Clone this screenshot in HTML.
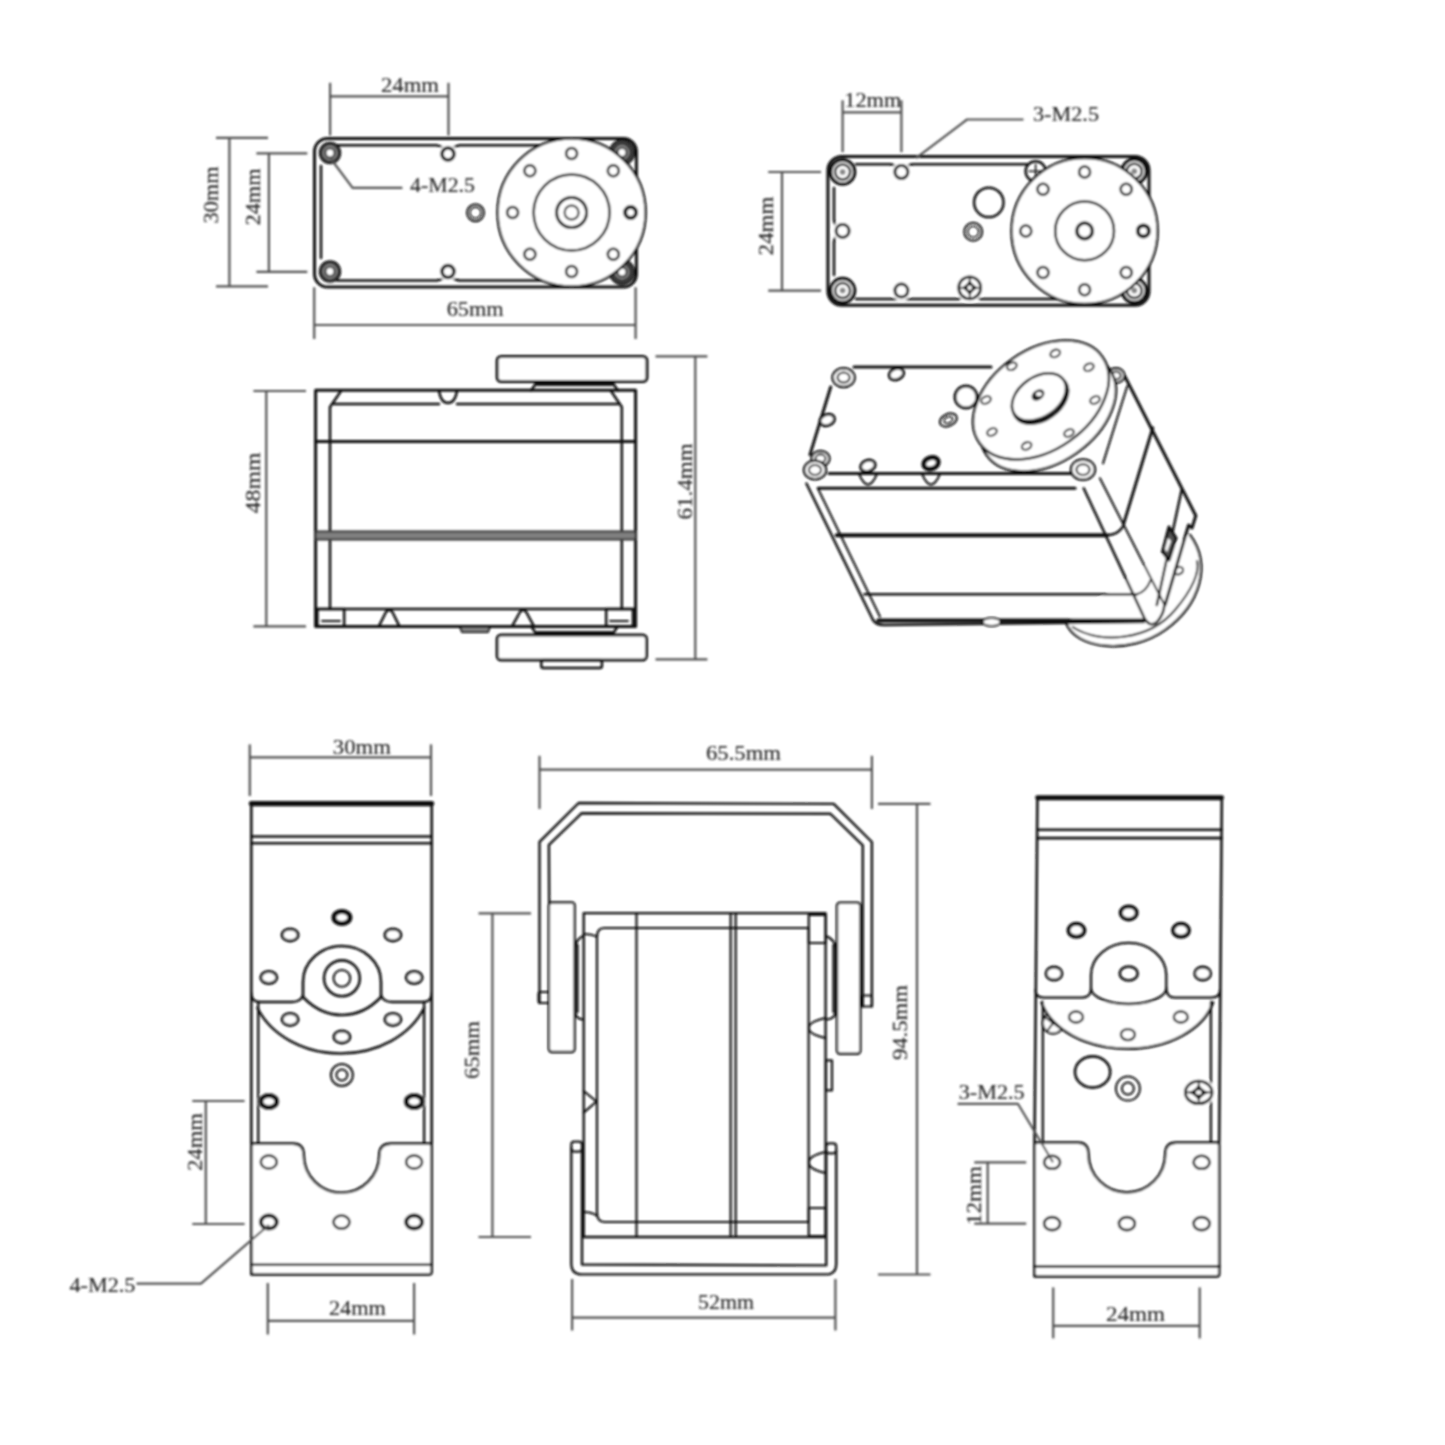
<!DOCTYPE html>
<html><head><meta charset="utf-8"><style>
html,body{margin:0;padding:0;background:#fff;}
svg{display:block;}
text{font-family:"Liberation Serif",serif;font-size:20px;fill:#2a2a2a;stroke:#2a2a2a;stroke-width:0.15px;}
</style></head><body>
<svg width="1445" height="1445" viewBox="0 0 1445 1445"><defs><filter id="bl" filterUnits="userSpaceOnUse" x="0" y="0" width="1445" height="1445"><feGaussianBlur stdDeviation="1"/></filter></defs><g filter="url(#bl)" fill="none" stroke="#111" stroke-width="2.3" stroke-linejoin="round" stroke-linecap="round">
<rect  rx="13" stroke-width="3" x="314.5" y="138.5" width="321.9" height="148.5"/>
<path  stroke-width="2.5" d="M337,145.3 L437,145.3 Q448,150 459,145.3 L548,145.3"/>
<path  stroke-width="2.5" d="M337,280.5 L437,280.5 Q448,276 459,280.5 L548,280.5"/>
<path  stroke-width="2.5" d="M321,166 L321,258"/>
<circle  fill="#3a3a3a" stroke="#111" stroke-width="1.5" cx="330" cy="153" r="10.5"/>
<circle  stroke="#9a9a9a" stroke-width="1.3" cx="330" cy="153" r="6.5"/>
<circle fill="#fff" stroke="none"  cx="330" cy="153" r="3.4"/>
<circle  fill="#3a3a3a" stroke="#111" stroke-width="1.5" cx="330" cy="271.5" r="10.5"/>
<circle  stroke="#9a9a9a" stroke-width="1.3" cx="330" cy="271.5" r="6.5"/>
<circle fill="#fff" stroke="none"  cx="330" cy="271.5" r="3.4"/>
<circle  fill="#3a3a3a" stroke="#111" stroke-width="1.5" cx="622" cy="152.5" r="12.5"/>
<circle  stroke="#9a9a9a" stroke-width="1.3" cx="622" cy="152.5" r="6.5"/>
<circle fill="#fff" stroke="none"  cx="622" cy="152.5" r="3.4"/>
<circle  fill="#3a3a3a" stroke="#111" stroke-width="1.5" cx="622" cy="272" r="12.5"/>
<circle  stroke="#9a9a9a" stroke-width="1.3" cx="622" cy="272" r="6.5"/>
<circle fill="#fff" stroke="none"  cx="622" cy="272" r="3.4"/>
<circle fill="#fff" stroke="none"  cx="448" cy="154" r="9.5"/>
<circle  stroke-width="3.5" fill="#fff" cx="448" cy="154" r="6"/>
<circle fill="#fff" stroke="none"  cx="448" cy="271.5" r="9.5"/>
<circle  stroke-width="3.5" fill="#fff" cx="448" cy="271.5" r="6"/>
<circle  stroke-width="2" cx="475.5" cy="212.7" r="8.5"/>
<circle  stroke-width="1.5" cx="475.5" cy="212.7" r="5.5"/>
<circle  stroke-width="2.5" fill="#fff" cx="571.6" cy="212.5" r="74"/>
<circle  stroke-width="2.5" cx="571.6" cy="212.5" r="38"/>
<circle  stroke-width="3" cx="571.6" cy="212.5" r="15"/>
<circle  stroke-width="2" cx="571.6" cy="212.5" r="7"/>
<circle  stroke-width="4" cx="630.6" cy="212.5" r="5.5"/>
<circle  stroke-width="2.5" cx="613.3" cy="254.2" r="5.5"/>
<circle  stroke-width="2.5" cx="571.6" cy="271.5" r="5.5"/>
<circle  stroke-width="2.5" cx="529.9" cy="254.2" r="5.5"/>
<circle  stroke-width="2.5" cx="512.6" cy="212.5" r="5.5"/>
<circle  stroke-width="2.5" cx="529.9" cy="170.8" r="5.5"/>
<circle  stroke-width="2.5" cx="571.6" cy="153.5" r="5.5"/>
<circle  stroke-width="2.5" cx="613.3" cy="170.8" r="5.5"/>
<polyline stroke="#505050" stroke-width="2.2" stroke-linecap="butt"  points="331,159 352.6,187.8 402.4,187.8"/>
<text x="410" y="192" textLength="65" lengthAdjust="spacingAndGlyphs" >4-M2.5</text>
<line stroke="#505050" stroke-width="2.2" stroke-linecap="butt"  x1="330.1" y1="82.8" x2="330.1" y2="135.5"/>
<line stroke="#505050" stroke-width="2.2" stroke-linecap="butt"  x1="448.5" y1="82.8" x2="448.5" y2="135.5"/>
<line stroke="#505050" stroke-width="2.2" stroke-linecap="butt"  x1="330.1" y1="96.3" x2="448.5" y2="96.3"/>
<text x="381" y="92.2" textLength="58" lengthAdjust="spacingAndGlyphs" >24mm</text>
<line stroke="#505050" stroke-width="2.2" stroke-linecap="butt"  x1="229.4" y1="137.9" x2="229.4" y2="286.3"/>
<line stroke="#505050" stroke-width="2.2" stroke-linecap="butt"  x1="216" y1="137.9" x2="268" y2="137.9"/>
<line stroke="#505050" stroke-width="2.2" stroke-linecap="butt"  x1="216" y1="286.3" x2="268" y2="286.3"/>
<text transform="translate(218,195) rotate(-90)" x="0" y="0" text-anchor="middle" textLength="57" lengthAdjust="spacingAndGlyphs" >30mm</text>
<line stroke="#505050" stroke-width="2.2" stroke-linecap="butt"  x1="268.9" y1="153.4" x2="268.9" y2="271.8"/>
<line stroke="#505050" stroke-width="2.2" stroke-linecap="butt"  x1="256.4" y1="153.4" x2="307.3" y2="153.4"/>
<line stroke="#505050" stroke-width="2.2" stroke-linecap="butt"  x1="256.4" y1="271.8" x2="307.3" y2="271.8"/>
<text transform="translate(259.5,197) rotate(-90)" x="0" y="0" text-anchor="middle" textLength="57" lengthAdjust="spacingAndGlyphs" >24mm</text>
<line stroke="#505050" stroke-width="2.2" stroke-linecap="butt"  x1="314.2" y1="287.3" x2="314.2" y2="339"/>
<line stroke="#505050" stroke-width="2.2" stroke-linecap="butt"  x1="635.6" y1="287.3" x2="635.6" y2="339"/>
<line stroke="#505050" stroke-width="2.2" stroke-linecap="butt"  x1="314.2" y1="325" x2="635.6" y2="325"/>
<text x="446.7" y="315.7" textLength="57" lengthAdjust="spacingAndGlyphs" >65mm</text>
<rect  rx="14" stroke-width="3" x="827.9" y="156.5" width="321.1" height="148.8"/>
<path  stroke-width="2.5" d="M856,164.3 L890,164.3 Q901.4,168 913,164.3 L1027,164.3"/>
<path  stroke-width="2.5" d="M856,299 L958,299 Q969.7,295 981,299 L1058,299"/>
<path  stroke-width="2.5" d="M834,188 L834,220 Q838,231 834,242 L834,275"/>
<circle  fill="#fff" stroke-width="3.5" cx="842.6" cy="172" r="12"/>
<circle  stroke-width="2.5" cx="842.6" cy="172" r="7.5"/>
<circle  fill="#888" stroke="none" cx="842.6" cy="172" r="3"/>
<circle  fill="#fff" stroke-width="3.5" cx="842.6" cy="290.6" r="12"/>
<circle  stroke-width="2.5" cx="842.6" cy="290.6" r="7.5"/>
<circle  fill="#888" stroke="none" cx="842.6" cy="290.6" r="3"/>
<circle  fill="#fff" stroke-width="3.5" cx="1134.3" cy="171.2" r="12"/>
<circle  stroke-width="2.5" cx="1134.3" cy="171.2" r="7.5"/>
<circle  fill="#888" stroke="none" cx="1134.3" cy="171.2" r="3"/>
<circle  fill="#fff" stroke-width="3.5" cx="1134.3" cy="290.6" r="12"/>
<circle  stroke-width="2.5" cx="1134.3" cy="290.6" r="7.5"/>
<circle  fill="#888" stroke="none" cx="1134.3" cy="290.6" r="3"/>
<circle fill="#fff" stroke="none"  cx="901.4" cy="172" r="10"/>
<circle  stroke-width="3" fill="#fff" cx="901.4" cy="172" r="6.5"/>
<circle fill="#fff" stroke="none"  cx="842.6" cy="230.9" r="10"/>
<circle  stroke-width="3" fill="#fff" cx="842.6" cy="230.9" r="6.5"/>
<circle fill="#fff" stroke="none"  cx="901.4" cy="290.6" r="10"/>
<circle  stroke-width="3" fill="#fff" cx="901.4" cy="290.6" r="6.5"/>
<circle  stroke-width="2.5" cx="988.8" cy="202.4" r="14.7"/>
<circle  stroke-width="2" cx="973.2" cy="231.8" r="9"/>
<circle  stroke-width="1.5" cx="973.2" cy="231.8" r="5.5"/>
<circle fill="#fff" stroke="none"  cx="969.7" cy="287.8" r="14"/>
<ellipse  fill="#fff" stroke-width="2.8" cx="969.7" cy="287.8" rx="11" ry="11"/>
<path fill="#222" stroke="none"  d="M960.9,287.8 Q967.3,285.4 969.7,279 Q972.1,285.4 978.5,287.8 Q972.1,290.2 969.7,296.6 Q967.3,290.2 960.9,287.8 Z"/>
<path  stroke-width="1.6" d="M958.7,287.8 L980.7,287.8 M969.7,276.8 L969.7,298.8"/>
<ellipse fill="#fff" stroke="none"  cx="969.7" cy="287.8" rx="2.2" ry="2.2"/>
<circle  stroke-width="2.5" cx="1035.6" cy="171.2" r="10"/>
<path  stroke-width="1.5" d="M1029,171.2 L1042,171.2 M1035.6,164.6 L1035.6,177.8"/>
<circle  stroke-width="2.5" fill="#fff" cx="1084.6" cy="230.9" r="73"/>
<circle  stroke-width="2.5" cx="1084.6" cy="230.9" r="29.4"/>
<circle  stroke-width="3.5" cx="1084.6" cy="230.9" r="7.8"/>
<circle  stroke-width="4" cx="1143.4" cy="230.9" r="5.5"/>
<circle  stroke-width="2.5" cx="1126.2" cy="272.5" r="5.5"/>
<circle  stroke-width="2.5" cx="1084.6" cy="289.7" r="5.5"/>
<circle  stroke-width="2.5" cx="1043" cy="272.5" r="5.5"/>
<circle  stroke-width="2.5" cx="1025.8" cy="230.9" r="5.5"/>
<circle  stroke-width="2.5" cx="1043" cy="189.3" r="5.5"/>
<circle  stroke-width="2.5" cx="1084.6" cy="172.1" r="5.5"/>
<circle  stroke-width="2.5" cx="1126.2" cy="189.3" r="5.5"/>
<polyline stroke="#505050" stroke-width="2.2" stroke-linecap="butt"  points="916,158.2 967,119.5 1023.5,119.5"/>
<text x="1033" y="121.4" textLength="66" lengthAdjust="spacingAndGlyphs" >3-M2.5</text>
<line stroke="#505050" stroke-width="2.2" stroke-linecap="butt"  x1="842.6" y1="100.3" x2="842.6" y2="152.2"/>
<line stroke="#505050" stroke-width="2.2" stroke-linecap="butt"  x1="901.4" y1="100.3" x2="901.4" y2="152.2"/>
<line stroke="#505050" stroke-width="2.2" stroke-linecap="butt"  x1="842.6" y1="112.4" x2="901.4" y2="112.4"/>
<text x="844.3" y="107.2" textLength="57" lengthAdjust="spacingAndGlyphs" >12mm</text>
<line stroke="#505050" stroke-width="2.2" stroke-linecap="butt"  x1="782" y1="172" x2="782" y2="290.6"/>
<line stroke="#505050" stroke-width="2.2" stroke-linecap="butt"  x1="768.2" y1="172" x2="821" y2="172"/>
<line stroke="#505050" stroke-width="2.2" stroke-linecap="butt"  x1="768.2" y1="290.6" x2="821" y2="290.6"/>
<text transform="translate(772.5,226) rotate(-90)" x="0" y="0" text-anchor="middle" textLength="59" lengthAdjust="spacingAndGlyphs" >24mm</text>
<path  stroke-width="2.5" d="M531,390.5 L537,382 L612,382 L618,390.5"/>
<line  stroke-width="3" x1="537" y1="384.5" x2="612" y2="384.5"/>
<rect  rx="4" stroke-width="3" fill="#fff" x="497.2" y="356.4" width="149.7" height="25.1"/>
<path  stroke-width="2.5" d="M531,626 L537,635 L612,635 L618,626"/>
<line  stroke-width="3" x1="537" y1="632.5" x2="612" y2="632.5"/>
<rect  rx="4" stroke-width="3" fill="#fff" x="497.2" y="635" width="149.3" height="25.1"/>
<rect  rx="2" stroke-width="2.5" x="541.3" y="660" width="60.6" height="8"/>
<path  stroke-width="3" d="M315.6,626.4 L315.6,390.2 L635.6,390.2 L635.6,626.4 Z"/>
<path  stroke-width="2.5" d="M330,609 L330,407 L341,391"/>
<path  stroke-width="2.5" d="M621.8,609 L621.8,407 L611,391"/>
<line  stroke-width="2.5" x1="334" y1="404" x2="439" y2="404"/>
<path  stroke-width="2.5" d="M439,391 Q441,403 448,403 Q455,403 457,391"/>
<line  stroke-width="2.5" x1="457" y1="404" x2="618" y2="404"/>
<line  stroke-width="3" x1="315.6" y1="441.5" x2="635.6" y2="441.5"/>
<rect  fill="#808080" stroke="#333" stroke-width="2" x="315.6" y="531.6" width="320" height="8"/>
<line  stroke-width="2.5" x1="315.6" y1="609" x2="635.6" y2="609"/>
<rect  stroke-width="2.5" x="317.4" y="609" width="26.8" height="17.4"/>
<line  stroke-width="2" x1="322" y1="621" x2="340" y2="621"/>
<rect  stroke-width="2.5" x="606.2" y="609" width="26.8" height="17.4"/>
<line  stroke-width="2" x1="610" y1="621" x2="628" y2="621"/>
<path  stroke-width="2.5" d="M378.8,626.4 L386,612 Q389.2,608 392.4,612 L399.5,626.4"/>
<path  stroke-width="2.5" d="M512,626.4 L520,612 Q523.1,608 526.2,612 L534,626.4"/>
<path  stroke-width="2" fill="#888" d="M460,627 L490,627 L488,632 L462,632 Z"/>
<line stroke="#505050" stroke-width="2.2" stroke-linecap="butt"  x1="266.3" y1="391" x2="266.3" y2="626.4"/>
<line stroke="#505050" stroke-width="2.2" stroke-linecap="butt"  x1="253.4" y1="391" x2="306" y2="391"/>
<line stroke="#505050" stroke-width="2.2" stroke-linecap="butt"  x1="253.4" y1="626.4" x2="306" y2="626.4"/>
<text transform="translate(260.3,483) rotate(-90)" x="0" y="0" text-anchor="middle" textLength="61" lengthAdjust="spacingAndGlyphs" >48mm</text>
<line stroke="#505050" stroke-width="2.2" stroke-linecap="butt"  x1="695.3" y1="356.4" x2="695.3" y2="659.3"/>
<line stroke="#505050" stroke-width="2.2" stroke-linecap="butt"  x1="655.5" y1="356.4" x2="707.4" y2="356.4"/>
<line stroke="#505050" stroke-width="2.2" stroke-linecap="butt"  x1="655.5" y1="659.3" x2="707.4" y2="659.3"/>
<text transform="translate(691.8,481.4) rotate(-90)" x="0" y="0" text-anchor="middle" textLength="76" lengthAdjust="spacingAndGlyphs" >61.4mm</text>
<path  stroke-width="2.5" fill="#fff" d="M1065.7,621.9 C1075,650 1130,655 1165,630 C1200,605 1212,565 1190,535"/>
<path  stroke-width="2" d="M1072.7,627 C1100,645 1150,640 1175,610 C1192,590 1200,572 1197,561"/>
<path  stroke-width="2.5" d="M806.4,483.5 L873,620 Q876,625 884,625 L1144,622 "/>
<line  stroke-width="2" x1="817.7" y1="488" x2="880" y2="616.7"/>
<line  stroke-width="4" x1="836.7" y1="535.2" x2="1107" y2="535.2"/>
<path  stroke-width="2.5" d="M1107,535.2 Q1118,535 1122.8,526.7"/>
<line  stroke-width="2.5" x1="864.4" y1="594.2" x2="1136.7" y2="594.2"/>
<path  stroke-width="2" d="M1136.7,594.2 Q1146,592 1150.5,580.3"/>
<line  stroke-width="4" x1="878.2" y1="620.5" x2="1143.6" y2="620.5"/>
<ellipse  fill="#fff" stroke-width="2" cx="991.6" cy="622" rx="9" ry="4"/>
<line  stroke-width="3" x1="829" y1="473.6" x2="1075" y2="473.6"/>
<line  stroke-width="3" x1="818.5" y1="488.3" x2="1075" y2="488.3"/>
<path  stroke-width="2" d="M859,474 Q868,495 877,474"/>
<path  stroke-width="2" d="M922,474 Q931,495 940,474"/>
<path  stroke-width="2.5" d="M1083.7,488.3 L1144.5,618.4 Q1150,628 1157,622 Q1164,614 1164.4,604.6"/>
<line  stroke-width="2" x1="1099.9" y1="478.3" x2="1164.4" y2="604.6"/>
<path  stroke-width="3" d="M1124.8,376.2 L1195.8,515.7 L1192,528 L1188.6,525 L1165.2,604.6"/>
<line  stroke-width="3" x1="1152.8" y1="427.9" x2="1123.5" y2="524.4"/>
<line  stroke-width="2.5" x1="1181.7" y1="489.7" x2="1156.8" y2="605"/>
<path  stroke-width="3" fill="#555" d="M1169,527 L1176,538 L1169,560 L1162.5,552 Z"/>
<path fill="#fff" stroke="none"  d="M1168,538 L1171,541 L1167,552 L1165,549 Z"/>
<line  stroke-width="2" x1="1103" y1="463.4" x2="1127.2" y2="386.2"/>
<ellipse  stroke-width="2" transform="rotate(-30 1178.8 570.7)" cx="1178.8" cy="570.7" rx="4.5" ry="3.5"/>
<ellipse  stroke-width="2.5" fill="#fff" cx="820.5" cy="458.6" rx="9" ry="7.6"/>
<ellipse  stroke-width="2" cx="820.5" cy="458.6" rx="5" ry="4"/>
<ellipse  stroke-width="2.5" fill="#fff" cx="1083" cy="469.6" rx="12" ry="10.2"/>
<ellipse  stroke-width="2" cx="1083" cy="469.6" rx="6.6" ry="5.4"/>
<ellipse  stroke-width="2.5" fill="#fff" cx="815" cy="470" rx="11" ry="9.3"/>
<ellipse  stroke-width="2" cx="815" cy="470" rx="6.1" ry="5"/>
<ellipse  stroke-width="2.5" fill="#fff" cx="843.6" cy="377.6" rx="11" ry="9.3"/>
<ellipse  stroke-width="2" cx="843.6" cy="377.6" rx="6.1" ry="5"/>
<ellipse  stroke-width="2.5" fill="#fff" cx="1116" cy="375.5" rx="8.5" ry="7.2"/>
<ellipse  stroke-width="2" cx="1116" cy="375.5" rx="4.7" ry="3.8"/>
<path  stroke-width="3" d="M854,367 L991,367"/>
<path  stroke-width="3" d="M830.7,387 L810,454.6"/>
<ellipse  stroke-width="3" fill="#fff" transform="rotate(-20 896.4 374.1)" cx="896.4" cy="374.1" rx="7.5" ry="5.5"/>
<ellipse  stroke-width="3" fill="#fff" transform="rotate(-20 827.2 420)" cx="827.2" cy="420" rx="7.5" ry="5.5"/>
<ellipse  stroke-width="3" fill="#fff" transform="rotate(-20 867.9 465.8)" cx="867.9" cy="465.8" rx="7.5" ry="5.5"/>
<ellipse  stroke-width="5" fill="#fff" transform="rotate(-20 931 463.2)" cx="931" cy="463.2" rx="7.5" ry="5.5"/>
<ellipse  stroke-width="2" transform="rotate(-25 948.3 420)" cx="948.3" cy="420" rx="9" ry="6"/>
<ellipse  stroke-width="1.5" transform="rotate(-25 948.3 420)" cx="948.3" cy="420" rx="4.5" ry="3"/>
<circle  stroke-width="3" fill="#fff" cx="966" cy="397" r="11"/>
<ellipse  stroke-width="2.5" fill="#fff" transform="rotate(-35 1048 412)" cx="1048" cy="412" rx="75" ry="50"/>
<ellipse  stroke-width="2.5" fill="#fff" transform="rotate(-35 1041 400)" cx="1041" cy="400" rx="75" ry="50"/>
<ellipse  stroke-width="3.5" transform="rotate(-35 1040.5 399.5)" cx="1040.5" cy="399.5" rx="30" ry="20"/>
<ellipse  stroke-width="2.5" fill="#fff" transform="rotate(-35 1039 397)" cx="1039" cy="397" rx="30" ry="20"/>
<ellipse fill="#222" stroke="none" transform="rotate(-35 1038 395)" cx="1038" cy="395" rx="7" ry="5"/>
<ellipse fill="#fff" stroke="none"  cx="1039" cy="394" rx="3" ry="2"/>
<ellipse  stroke-width="2" transform="rotate(-25 1055.2 353.4)" cx="1055.2" cy="353.4" rx="5" ry="3.5"/>
<ellipse  stroke-width="2" transform="rotate(-25 1011.9 366.3)" cx="1011.9" cy="366.3" rx="5" ry="3.5"/>
<ellipse  stroke-width="2" transform="rotate(-25 986 400)" cx="986" cy="400" rx="5" ry="3.5"/>
<ellipse  stroke-width="2" transform="rotate(-25 992 432)" cx="992" cy="432" rx="5" ry="3.5"/>
<ellipse  stroke-width="2" transform="rotate(-25 1026.6 445.9)" cx="1026.6" cy="445.9" rx="5" ry="3.5"/>
<ellipse  stroke-width="2" transform="rotate(-25 1069 433)" cx="1069" cy="433" rx="5" ry="3.5"/>
<ellipse  stroke-width="2" transform="rotate(-25 1095 400)" cx="1095" cy="400" rx="5" ry="3.5"/>
<ellipse  stroke-width="2" transform="rotate(-25 1088.9 367.2)" cx="1088.9" cy="367.2" rx="5" ry="3.5"/>
<path  stroke-width="2.6" d="M251.3,1143.6 L251.3,805 L431.7,805 L431.7,1143.6"/>
<line  stroke-width="5" x1="251.3" y1="803.4" x2="431.7" y2="803.4"/>
<line  stroke-width="2.6" x1="251.3" y1="836.5" x2="431.7" y2="836.5"/>
<line  stroke-width="2.6" x1="251.3" y1="843.3" x2="431.7" y2="843.3"/>
<path  stroke-width="2.3" d="M251.3,993 Q251.3,1002 260,1002 L292,1002 Q301,1002 303,995"/>
<path  stroke-width="2.3" d="M381,995 Q383,1002 392,1002 L423,1002 Q431.7,1002 431.7,993"/>
<path  stroke-width="2.6" d="M257.4,1008 A90,73 0 0 0 424.1,1008"/>
<line  stroke-width="2.3" x1="258.2" y1="1002" x2="258.2" y2="1143.6"/>
<line  stroke-width="2.3" x1="424.1" y1="1002" x2="424.1" y2="1143.6"/>
<path  stroke-width="2.6" d="M303,997 L303,982 A39,36 0 0 1 381,982 L381,997"/>
<path  stroke-width="2.6" d="M303,997 Q320,1015 342,1015 Q364,1015 381,997"/>
<circle  stroke-width="2.6" cx="341.9" cy="978.3" r="17.9"/>
<circle  stroke-width="2" cx="341.9" cy="978.3" r="8.4"/>
<ellipse  stroke-width="5" fill="#fff" cx="341.9" cy="917.4" rx="8" ry="6"/>
<ellipse  stroke-width="3" fill="#fff" cx="290.1" cy="934.9" rx="8" ry="6"/>
<ellipse  stroke-width="3" fill="#fff" cx="392.9" cy="934.9" rx="8" ry="6"/>
<ellipse  stroke-width="3" fill="#fff" cx="268.8" cy="977.5" rx="8" ry="6"/>
<ellipse  stroke-width="3" fill="#fff" cx="414.2" cy="977.5" rx="8" ry="6"/>
<ellipse  stroke-width="3" fill="#fff" cx="290.1" cy="1019.4" rx="8" ry="6"/>
<ellipse  stroke-width="3" fill="#fff" cx="392.9" cy="1019.4" rx="8" ry="6"/>
<ellipse  stroke-width="3" fill="#fff" cx="341.9" cy="1036.9" rx="8" ry="6"/>
<circle  stroke-width="2" cx="341.9" cy="1075" r="11"/>
<circle  stroke-width="2" cx="341.9" cy="1075" r="5.5"/>
<ellipse fill="#fff" stroke="none"  cx="268.8" cy="1101.6" rx="11" ry="9"/>
<ellipse  stroke-width="5" fill="#fff" cx="268.8" cy="1101.6" rx="8" ry="6"/>
<ellipse fill="#fff" stroke="none"  cx="414.2" cy="1101.6" rx="11" ry="9"/>
<ellipse  stroke-width="5" fill="#fff" cx="414.2" cy="1101.6" rx="8" ry="6"/>
<path  stroke-width="2.6" fill="#fff" d="M251.4,1274.4 L251.4,1146 Q251.4,1143.6 254,1143.6 L293,1143.6 Q303.7,1143.6 303.7,1155 A37.8,37.8 0 0 0 379.3,1155 Q379.3,1143.6 391,1143.6 L429,1143.6 Q431.6,1143.6 431.6,1146 L431.6,1272 Q431.6,1274.4 429,1274.4 L254,1274.4 Q251.4,1274.4 251.4,1272"/>
<line  stroke-width="2.6" x1="251.4" y1="1264.7" x2="431.6" y2="1264.7"/>
<ellipse  stroke-width="2.5" fill="#fff" cx="268.8" cy="1162" rx="8" ry="6.5"/>
<ellipse  stroke-width="2.5" fill="#fff" cx="414.1" cy="1162" rx="8" ry="6.5"/>
<ellipse  stroke-width="4" fill="#fff" cx="268.8" cy="1222.1" rx="8" ry="6.5"/>
<ellipse  stroke-width="2.5" fill="#fff" cx="341.5" cy="1222.1" rx="8" ry="6.5"/>
<ellipse  stroke-width="4" fill="#fff" cx="414.1" cy="1222.1" rx="8" ry="6.5"/>
<line stroke="#505050" stroke-width="2.2" stroke-linecap="butt"  x1="249.8" y1="744.4" x2="249.8" y2="796"/>
<line stroke="#505050" stroke-width="2.2" stroke-linecap="butt"  x1="431" y1="744.4" x2="431" y2="796"/>
<line stroke="#505050" stroke-width="2.2" stroke-linecap="butt"  x1="249.8" y1="757.3" x2="431" y2="757.3"/>
<text x="332.8" y="753.5" textLength="58" lengthAdjust="spacingAndGlyphs" >30mm</text>
<line stroke="#505050" stroke-width="2.2" stroke-linecap="butt"  x1="205.8" y1="1101" x2="205.8" y2="1224"/>
<line stroke="#505050" stroke-width="2.2" stroke-linecap="butt"  x1="192.3" y1="1101" x2="244.6" y2="1101"/>
<line stroke="#505050" stroke-width="2.2" stroke-linecap="butt"  x1="192.3" y1="1224" x2="244.6" y2="1224"/>
<text transform="translate(202,1142) rotate(-90)" x="0" y="0" text-anchor="middle" textLength="58" lengthAdjust="spacingAndGlyphs" >24mm</text>
<polyline stroke="#505050" stroke-width="2.2" stroke-linecap="butt"  points="268.8,1225 200.9,1283.7 136.5,1283.7"/>
<text x="69.4" y="1291.6" textLength="66" lengthAdjust="spacingAndGlyphs" >4-M2.5</text>
<line stroke="#505050" stroke-width="2.2" stroke-linecap="butt"  x1="267.8" y1="1283" x2="267.8" y2="1334.5"/>
<line stroke="#505050" stroke-width="2.2" stroke-linecap="butt"  x1="414.1" y1="1283" x2="414.1" y2="1334.5"/>
<line stroke="#505050" stroke-width="2.2" stroke-linecap="butt"  x1="267.8" y1="1320.9" x2="414.1" y2="1320.9"/>
<text x="328.9" y="1315.1" textLength="57" lengthAdjust="spacingAndGlyphs" >24mm</text>
<path  stroke-width="2.4" d="M539.5,1003 L539.5,841.8 L578.6,803 L833.7,803.9 L871.9,842 L871.9,1006.5"/>
<path  stroke-width="2.4" d="M549.7,1003 L548.9,844.8 L581.7,813.2 L830.4,813.8 L862.8,845.4 L862.8,1006.5"/>
<rect  rx="2" stroke-width="2.2" x="538.5" y="992" width="11.5" height="11"/>
<rect  rx="2" stroke-width="2.2" x="862" y="995.5" width="10" height="11"/>
<rect  rx="3" stroke-width="2.4" fill="#fff" x="548.9" y="902.5" width="25.7" height="149.5"/>
<rect  rx="3" stroke-width="2.4" fill="#fff" x="837" y="902.7" width="23.3" height="151.1"/>
<path  stroke-width="2.2" d="M583,936 Q575,940 575,950 L575,1010 Q575,1019 583,1019.5"/>
<line  stroke-width="2.4" x1="577.5" y1="945" x2="577.5" y2="1012"/>
<path  stroke-width="2.2" d="M826,936 Q836,940 836,950 L836,1010 Q836,1019 826,1019.5"/>
<line  stroke-width="2.4" x1="833.5" y1="945" x2="833.5" y2="1012"/>
<path  stroke-width="2.4" d="M583.7,913.1 L825.6,913.1 L825.6,1237 L583.7,1237 Z"/>
<path  stroke-width="2.2" d="M597,937 Q597,928 604,928 L808.6,928 L808.6,1222 L604,1222 Q597,1222 597,1212 Z"/>
<path  stroke-width="2" d="M583.7,934 Q592,934 597,937"/>
<path  stroke-width="2" d="M583.7,1212 Q592,1212 597,1216"/>
<line  stroke-width="2.2" x1="636.5" y1="913.1" x2="636.5" y2="1237"/>
<line  stroke-width="2.2" x1="730.7" y1="913.1" x2="730.7" y2="1237"/>
<line  stroke-width="2.2" x1="735.7" y1="913.1" x2="735.7" y2="1237"/>
<path  stroke-width="2.2" d="M583.7,1091 L596.5,1101.5 L583.7,1112.6"/>
<path  stroke-width="2.2" d="M825.6,1018 Q808,1022 809,1028 Q808,1034 825.6,1038"/>
<path  stroke-width="2.2" d="M825.6,1152 Q808,1156 809,1162.6 Q808,1169 825.6,1173"/>
<rect  stroke-width="2.2" x="808.8" y="915" width="17" height="28"/>
<rect  stroke-width="2.2" x="808.8" y="1208" width="17" height="28"/>
<rect  stroke-width="2.2" x="826" y="1060.4" width="6" height="30"/>
<path  stroke-width="2.4" d="M571.3,1148 L571.3,1264 Q571.3,1274.4 582,1274.4 L826,1274.4 Q836.2,1274.4 836.2,1264 L836.2,1150"/>
<path  stroke-width="2.4" d="M582,1151.5 L582,1264.5 L826.2,1265.4 L826.2,1153"/>
<rect  rx="3" stroke-width="2.2" x="571.3" y="1141.6" width="10.7" height="10"/>
<rect  rx="3" stroke-width="2.2" x="826.2" y="1143.3" width="10" height="10"/>
<line stroke="#505050" stroke-width="2.2" stroke-linecap="butt"  x1="539.5" y1="755.8" x2="539.5" y2="809"/>
<line stroke="#505050" stroke-width="2.2" stroke-linecap="butt"  x1="871.9" y1="755.8" x2="871.9" y2="809"/>
<line stroke="#505050" stroke-width="2.2" stroke-linecap="butt"  x1="539.5" y1="769.6" x2="871.9" y2="769.6"/>
<text x="706" y="760" textLength="75" lengthAdjust="spacingAndGlyphs" >65.5mm</text>
<line stroke="#505050" stroke-width="2.2" stroke-linecap="butt"  x1="492.4" y1="913.3" x2="492.4" y2="1237"/>
<line stroke="#505050" stroke-width="2.2" stroke-linecap="butt"  x1="478.5" y1="913.3" x2="531" y2="913.3"/>
<line stroke="#505050" stroke-width="2.2" stroke-linecap="butt"  x1="478.5" y1="1237" x2="531" y2="1237"/>
<text transform="translate(479,1050) rotate(-90)" x="0" y="0" text-anchor="middle" textLength="58" lengthAdjust="spacingAndGlyphs" >65mm</text>
<line stroke="#505050" stroke-width="2.2" stroke-linecap="butt"  x1="917" y1="803.9" x2="917" y2="1274.5"/>
<line stroke="#505050" stroke-width="2.2" stroke-linecap="butt"  x1="878" y1="803.9" x2="930.5" y2="803.9"/>
<line stroke="#505050" stroke-width="2.2" stroke-linecap="butt"  x1="878" y1="1274.5" x2="930.5" y2="1274.5"/>
<text transform="translate(906.8,1022.6) rotate(-90)" x="0" y="0" text-anchor="middle" textLength="75" lengthAdjust="spacingAndGlyphs" >94.5mm</text>
<line stroke="#505050" stroke-width="2.2" stroke-linecap="butt"  x1="572.1" y1="1279" x2="572.1" y2="1330.5"/>
<line stroke="#505050" stroke-width="2.2" stroke-linecap="butt"  x1="835.4" y1="1279" x2="835.4" y2="1330.5"/>
<line stroke="#505050" stroke-width="2.2" stroke-linecap="butt"  x1="572.1" y1="1317.7" x2="835.4" y2="1317.7"/>
<text x="698" y="1309" textLength="56" lengthAdjust="spacingAndGlyphs" >52mm</text>
<path  stroke-width="2.6" d="M1034.5,1142.6 L1037.4,799 L1221.8,799 L1219.2,1142.6"/>
<line  stroke-width="4.5" x1="1037.4" y1="797.6" x2="1221.8" y2="797.6"/>
<line  stroke-width="2.6" x1="1037.4" y1="829.8" x2="1221.8" y2="829.8"/>
<line  stroke-width="2.6" x1="1037.4" y1="838.1" x2="1221.8" y2="838.1"/>
<ellipse  stroke-width="4" fill="#fff" cx="1128.7" cy="912.9" rx="8" ry="6.5"/>
<ellipse  stroke-width="4" fill="#fff" cx="1076.4" cy="930.3" rx="8" ry="6.5"/>
<ellipse  stroke-width="4" fill="#fff" cx="1181" cy="930.3" rx="8" ry="6.5"/>
<ellipse  stroke-width="2.8" fill="#fff" cx="1054" cy="973.5" rx="8" ry="6.5"/>
<ellipse  stroke-width="2.8" fill="#fff" cx="1202.7" cy="973.5" rx="8" ry="6.5"/>
<circle  stroke-width="2.3" fill="#fff" cx="1053.1" cy="1023.2" r="10.4"/>
<path  stroke-width="2" d="M1046,1018 L1060,1028 M1048,1030 L1058,1016"/>
<path fill="#fff" stroke="none"  d="M1041.7,1002.5 A88,60 0 0 0 1213,1002.5 Z"/>
<path  stroke-width="2.3" d="M1035.5,990 Q1035.5,997.6 1044,997.6 L1082,997.6 Q1091,997.6 1091,988 L1091,975 A37.6,32 0 0 1 1166.3,975 L1166.3,988 Q1166.3,997.6 1175,997.6 L1211,997.6 Q1220,997.6 1220,990"/>
<path  stroke-width="2.3" d="M1091,988 A37.6,16 0 0 0 1166.3,988"/>
<path  stroke-width="2.6" d="M1041.7,1002.5 A88,60 0 0 0 1213,1002.5"/>
<ellipse  stroke-width="2.6" cx="1128.7" cy="973.5" rx="9" ry="7"/>
<ellipse  stroke-width="2.3" cx="1076" cy="1017" rx="7" ry="5.5"/>
<ellipse  stroke-width="2.3" cx="1180.8" cy="1017" rx="7" ry="5.5"/>
<ellipse  stroke-width="2.3" cx="1127.9" cy="1034.6" rx="7" ry="5.5"/>
<line  stroke-width="2.3" x1="1042.8" y1="1002" x2="1042.8" y2="1142.6"/>
<line  stroke-width="2.3" x1="1210.9" y1="1002" x2="1210.9" y2="1142.6"/>
<ellipse  stroke-width="2.6" cx="1092.6" cy="1072" rx="17.6" ry="15.6"/>
<circle  stroke-width="2" cx="1127.9" cy="1088.6" r="12"/>
<circle  stroke-width="2" cx="1127.9" cy="1088.6" r="6"/>
<ellipse fill="#fff" stroke="none"  cx="1198.7" cy="1092.4" rx="16.5" ry="14"/>
<ellipse  fill="#fff" stroke-width="2.8" cx="1198.7" cy="1092.4" rx="13.3" ry="11.2"/>
<path fill="#222" stroke="none"  d="M1188.1,1092.4 Q1195.8,1089.9 1198.7,1083.4 Q1201.6,1089.9 1209.3,1092.4 Q1201.6,1094.9 1198.7,1101.4 Q1195.8,1094.9 1188.1,1092.4 Z"/>
<path  stroke-width="1.6" d="M1185.4,1092.4 L1212,1092.4 M1198.7,1081.2 L1198.7,1103.6"/>
<ellipse fill="#fff" stroke="none"  cx="1198.7" cy="1092.4" rx="2.7" ry="2.2"/>
<path  stroke-width="2.6" fill="#fff" d="M1034.5,1276.4 L1034.5,1145 Q1034.5,1142.6 1037,1142.6 L1078,1142.6 Q1088.4,1142.6 1088.4,1154 A38.4,38.4 0 0 0 1165.3,1154 Q1165.3,1142.6 1176,1142.6 L1216.7,1142.6 Q1219.2,1142.6 1219.2,1145 L1219.2,1274 Q1219.2,1276.4 1216.7,1276.4 L1037,1276.4 Q1034.5,1276.4 1034.5,1274"/>
<line  stroke-width="2.6" x1="1034.5" y1="1266.4" x2="1219.2" y2="1266.4"/>
<ellipse  stroke-width="2.6" fill="#fff" cx="1052.1" cy="1162.3" rx="8" ry="6.5"/>
<ellipse  stroke-width="2.6" fill="#fff" cx="1201.6" cy="1162.3" rx="8" ry="6.5"/>
<ellipse  stroke-width="2.6" fill="#fff" cx="1052.1" cy="1223.6" rx="8" ry="6.5"/>
<ellipse  stroke-width="2.6" fill="#fff" cx="1126.9" cy="1223.6" rx="8" ry="6.5"/>
<ellipse  stroke-width="2.6" fill="#fff" cx="1201.6" cy="1223.6" rx="8" ry="6.5"/>
<polyline stroke="#505050" stroke-width="2.2" stroke-linecap="butt"  points="1053,1162.3 1017.9,1103.8 957.6,1103.8"/>
<text x="958.7" y="1099" textLength="66" lengthAdjust="spacingAndGlyphs" >3-M2.5</text>
<line stroke="#505050" stroke-width="2.2" stroke-linecap="butt"  x1="987.7" y1="1162.3" x2="987.7" y2="1223.6"/>
<line stroke="#505050" stroke-width="2.2" stroke-linecap="butt"  x1="974.3" y1="1162.3" x2="1026.2" y2="1162.3"/>
<line stroke="#505050" stroke-width="2.2" stroke-linecap="butt"  x1="974.3" y1="1223.6" x2="1026.2" y2="1223.6"/>
<text transform="translate(980.5,1195.5) rotate(-90)" x="0" y="0" text-anchor="middle" textLength="59" lengthAdjust="spacingAndGlyphs" >12mm</text>
<line stroke="#505050" stroke-width="2.2" stroke-linecap="butt"  x1="1053.2" y1="1287.4" x2="1053.2" y2="1338.4"/>
<line stroke="#505050" stroke-width="2.2" stroke-linecap="butt"  x1="1199.7" y1="1287.4" x2="1199.7" y2="1338.4"/>
<line stroke="#505050" stroke-width="2.2" stroke-linecap="butt"  x1="1053.2" y1="1325.8" x2="1199.7" y2="1325.8"/>
<text x="1106" y="1320.9" textLength="59" lengthAdjust="spacingAndGlyphs" >24mm</text>
</g></svg></body></html>
